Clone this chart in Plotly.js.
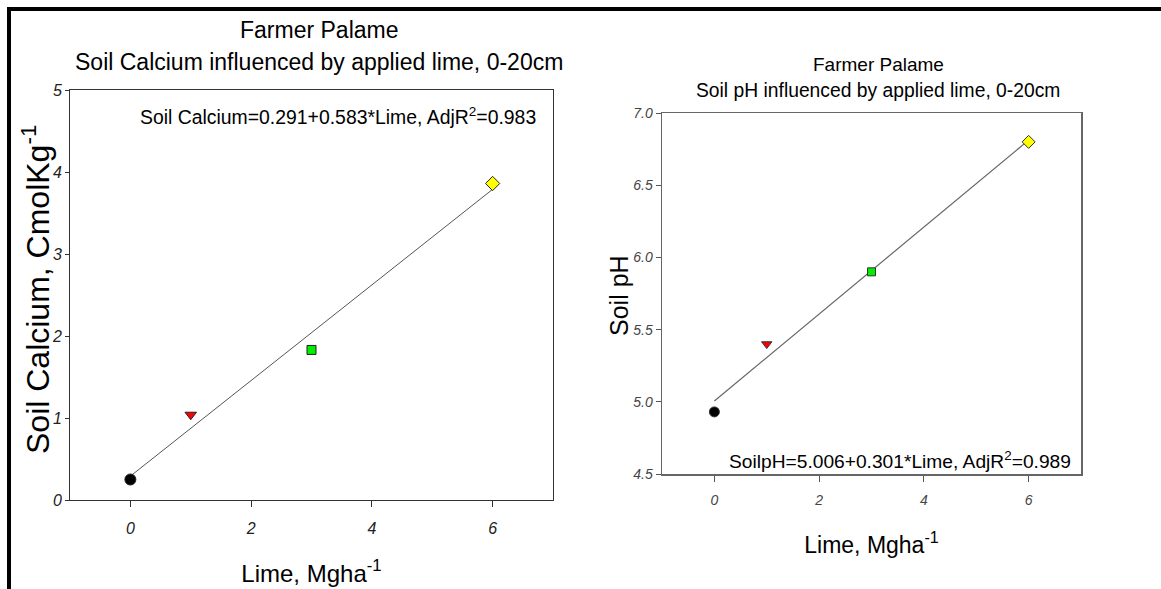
<!DOCTYPE html>
<html>
<head>
<meta charset="utf-8">
<script src="https://cdn.plot.ly/plotly-3.0.1.min.js"></script>
<style>
  html, body { margin: 0; padding: 0; background: #ffffff; }
  #chart { width: 1161px; height: 589px; }
</style>
</head>
<body>
<div id="chart"></div>
<script>
// ---- data ----
const lime = [0, 1, 3, 6];
const calcium = [0.25, 1.04, 1.83, 3.86];
const soilPH = [4.93, 5.40, 5.90, 6.80];
const fitLime = [0, 6];
const fitCalcium = [0.291, 3.789];
const fitPH = [5.006, 6.812];
const pointSymbols = ['circle', 'triangle-down', 'square', 'diamond'];
const pointColors = ['#000000', '#ff0000', '#00ee00', '#ffff00'];
const xTicks = [0, 2, 4, 6];
const caTicks = [0, 1, 2, 3, 4, 5];
const phTicks = [4.5, 5.0, 5.5, 6.0, 6.5, 7.0];

const W = 1161, H = 589;
const px = v => v / W;
const py = v => 1 - v / H;
const FONT = 'Liberation Sans, Arial, sans-serif';

const traces = [
  { x: fitLime, y: fitCalcium, xaxis: 'x', yaxis: 'y', mode: 'lines',
    line: { color: '#555555', width: 1 }, hoverinfo: 'skip' },
  { x: lime, y: calcium, xaxis: 'x', yaxis: 'y', mode: 'markers',
    marker: { symbol: pointSymbols, color: pointColors, size: [11, 10, 9, 11], opacity: 1,
              line: { color: '#222222', width: 1 } } },
  { x: fitLime, y: fitPH, xaxis: 'x2', yaxis: 'y2', mode: 'lines',
    line: { color: '#666666', width: 1.2 }, hoverinfo: 'skip' },
  { x: lime, y: soilPH, xaxis: 'x2', yaxis: 'y2', mode: 'markers',
    marker: { symbol: pointSymbols, color: pointColors, size: [10, 9, 8, 10], opacity: 1,
              line: { color: '#333333', width: 1 } } }
];

const axisCommon = {
  showgrid: false, zeroline: false, showline: true, mirror: true,
  ticks: 'outside', tickwidth: 1
};

const layout = {
  width: W, height: H,
  margin: { l: 0, r: 0, t: 0, b: 0 },
  paper_bgcolor: '#ffffff', plot_bgcolor: '#ffffff',
  showlegend: false,
  font: { family: FONT, color: '#000000' },
  xaxis: Object.assign({}, axisCommon, {
    domain: [px(70), px(553)], anchor: 'y', range: [-1, 7],
    tickvals: xTicks, linecolor: '#333333', tickcolor: '#333333', ticklen: 6,
    ticklabelstandoff: 8,
    tickfont: { size: 16, style: 'italic', color: '#222222' },
    title: { text: 'Lime, Mgha<sup>-1</sup>', standoff: 28,
             font: { size: 24, color: '#000000' } }
  }),
  yaxis: Object.assign({}, axisCommon, {
    domain: [py(500), py(90)], anchor: 'x', range: [0, 5],
    tickvals: caTicks, linecolor: '#333333', tickcolor: '#333333', ticklen: 4,
    tickfont: { size: 16, style: 'italic', color: '#222222' }
  }),
  xaxis2: Object.assign({}, axisCommon, {
    domain: [px(662), px(1081)], anchor: 'y2', range: [-1, 7],
    tickvals: xTicks, linecolor: '#666666', linewidth: 1.5, tickcolor: '#555555', ticklen: 6,
    ticklabelstandoff: 7,
    tickfont: { size: 14, style: 'italic', color: '#444444' },
    title: { text: 'Lime, Mgha<sup>-1</sup>', standoff: 29,
             font: { size: 23, color: '#000000' } }
  }),
  yaxis2: Object.assign({}, axisCommon, {
    domain: [py(474), py(113)], anchor: 'x2', range: [4.5, 7.0],
    tickvals: phTicks, tickformat: '.1f',
    linecolor: '#666666', linewidth: 1.5, tickcolor: '#555555', ticklen: 5,
    tickfont: { size: 14, style: 'italic', color: '#444444' }
  }),
  annotations: [
    { xref: 'paper', yref: 'paper', x: px(319), y: py(30), text: 'Farmer Palame',
      showarrow: false, xanchor: 'center', yanchor: 'middle',
      font: { size: 23, color: '#000000' } },
    { xref: 'paper', yref: 'paper', x: px(319), y: py(62),
      text: 'Soil Calcium influenced by applied lime, 0-20cm',
      showarrow: false, xanchor: 'center', yanchor: 'middle',
      font: { size: 23, color: '#000000' } },
    { xref: 'paper', yref: 'paper', x: px(538), y: py(116),
      text: 'Soil Calcium=0.291+0.583*Lime, AdjR<sup>2</sup>=0.983',
      showarrow: false, xanchor: 'right', yanchor: 'middle',
      font: { size: 19.4, color: '#000000' } },
    { xref: 'paper', yref: 'paper', x: px(36), y: py(290),
      text: 'Soil Calcium, CmolKg<sup>-1</sup>', textangle: -90,
      showarrow: false, xanchor: 'center', yanchor: 'middle',
      font: { size: 32, color: '#000000' } },
    { xref: 'paper', yref: 'paper', x: px(878), y: py(64), text: 'Farmer Palame',
      showarrow: false, xanchor: 'center', yanchor: 'middle',
      font: { size: 19, color: '#000000' } },
    { xref: 'paper', yref: 'paper', x: px(878), y: py(90),
      text: 'Soil pH influenced by applied lime, 0-20cm',
      showarrow: false, xanchor: 'center', yanchor: 'middle',
      font: { size: 19.3, color: '#000000' } },
    { xref: 'paper', yref: 'paper', x: px(1073), y: py(460),
      text: 'SoilpH=5.006+0.301*Lime, AdjR<sup>2</sup>=0.989',
      showarrow: false, xanchor: 'right', yanchor: 'middle',
      font: { size: 19.2, color: '#000000' } },
    { xref: 'paper', yref: 'paper', x: px(619), y: py(296),
      text: 'Soil pH', textangle: -90,
      showarrow: false, xanchor: 'center', yanchor: 'middle',
      font: { size: 25, color: '#000000' } }
  ],
  shapes: [
    { type: 'line', xref: 'paper', yref: 'paper', x0: px(7), x1: 1, y0: py(9), y1: py(9),
      line: { color: '#000000', width: 4 } },
    { type: 'line', xref: 'paper', yref: 'paper', x0: px(9), x1: px(9), y0: 0, y1: py(7),
      line: { color: '#000000', width: 4 } }
  ]
};

Plotly.newPlot('chart', traces, layout, { displayModeBar: false, staticPlot: true });
</script>
</body>
</html>
